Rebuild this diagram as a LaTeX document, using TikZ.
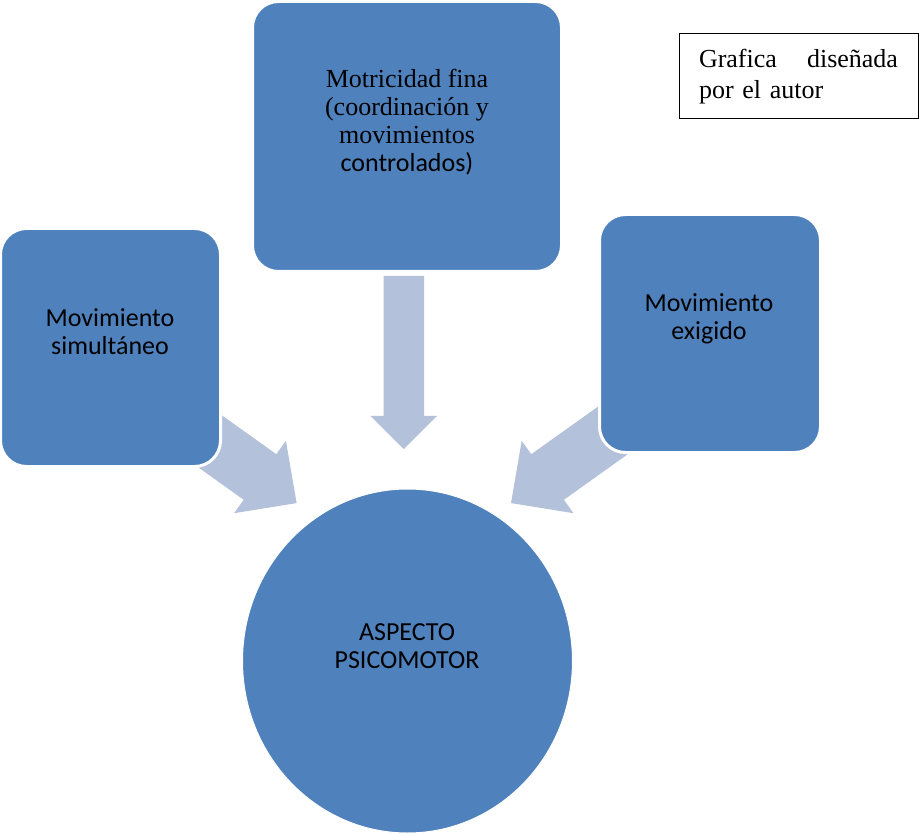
\documentclass[tikz,border=0pt]{standalone}
\usepackage{fontspec}
\setmainfont{Liberation Serif}
\newfontfamily\calfont{Carlito}
\usetikzlibrary{shapes.geometric}
\definecolor{boxblue}{RGB}{79,129,189}
\definecolor{arrowblue}{RGB}{179,193,219}
\begin{document}
\begin{tikzpicture}[x=1pt,y=-1pt,
  bluebox/.style={rectangle, rounded corners=26pt, fill=boxblue, draw=white, line width=3pt, inner sep=0pt},
  fatarrow/.style={fill=arrowblue, draw=none},
  seriftext/.style={font=\fontsize{26}{27.8}\selectfont, align=center, inner sep=0pt},
  sanstext/.style={font=\calfont\fontsize{26}{28.5}\selectfont, align=center, inner sep=0pt}]
\useasboundingbox (0,0) rectangle (919,834);

% block arrows (drawn first, boxes cover their back ends)
\fill[fatarrow] (186.8,390.3) -- (276.3,454.2) -- (285.9,440.8) -- (296.6,503.1)
  -- (234.1,513.2) -- (243.7,499.8) -- (154.2,435.9) -- cycle;
\fill[fatarrow] (620.8,390.3) -- (531.3,454.2) -- (521.7,440.8) -- (511,503.1)
  -- (573.5,513.2) -- (563.9,499.8) -- (653.4,435.9) -- cycle;
\fill[fatarrow] (383.5,276) -- (424,276) -- (424,416) -- (437,416) -- (403.75,449)
  -- (370.5,416) -- (383.5,416) -- cycle;

% shapes
\node[bluebox, minimum width=309pt, minimum height=270pt] (fina) at (407,136.5) {};
\node[bluebox, minimum width=220pt, minimum height=238pt] (simul) at (110.5,347.5) {};
\node[bluebox, minimum width=221pt, minimum height=238pt] (exig) at (710,333.5) {};
\node[ellipse, fill=boxblue, draw=white, line width=1pt, minimum width=330pt,
  minimum height=344pt, inner sep=0pt] (psico) at (407.5,661) {};

% texts
\node[seriftext] (finat) at (407,122) {Motricidad fina\\(coordinación y\\movimientos\\{\calfont controlados)}};
\node[sanstext] (simult) at (110,331.5) {Movimiento\\simultáneo};
\node[sanstext] (exigt) at (709,319) {Movimiento\\exigido};
\node[sanstext] (psicot) at (407,646) {ASPECTO\\PSICOMOTOR};

% note
\node[draw=black, line width=1pt, minimum width=239pt, minimum height=85pt,
  text width=199pt, inner xsep=20pt, inner ysep=0pt, align=left,
  font=\fontsize{26}{31.3}\selectfont] (nota) at (798.5,76.5)
  {\hbox to 199pt{Grafica\hfill diseñada}\par por el autor};
\end{tikzpicture}
\end{document}
